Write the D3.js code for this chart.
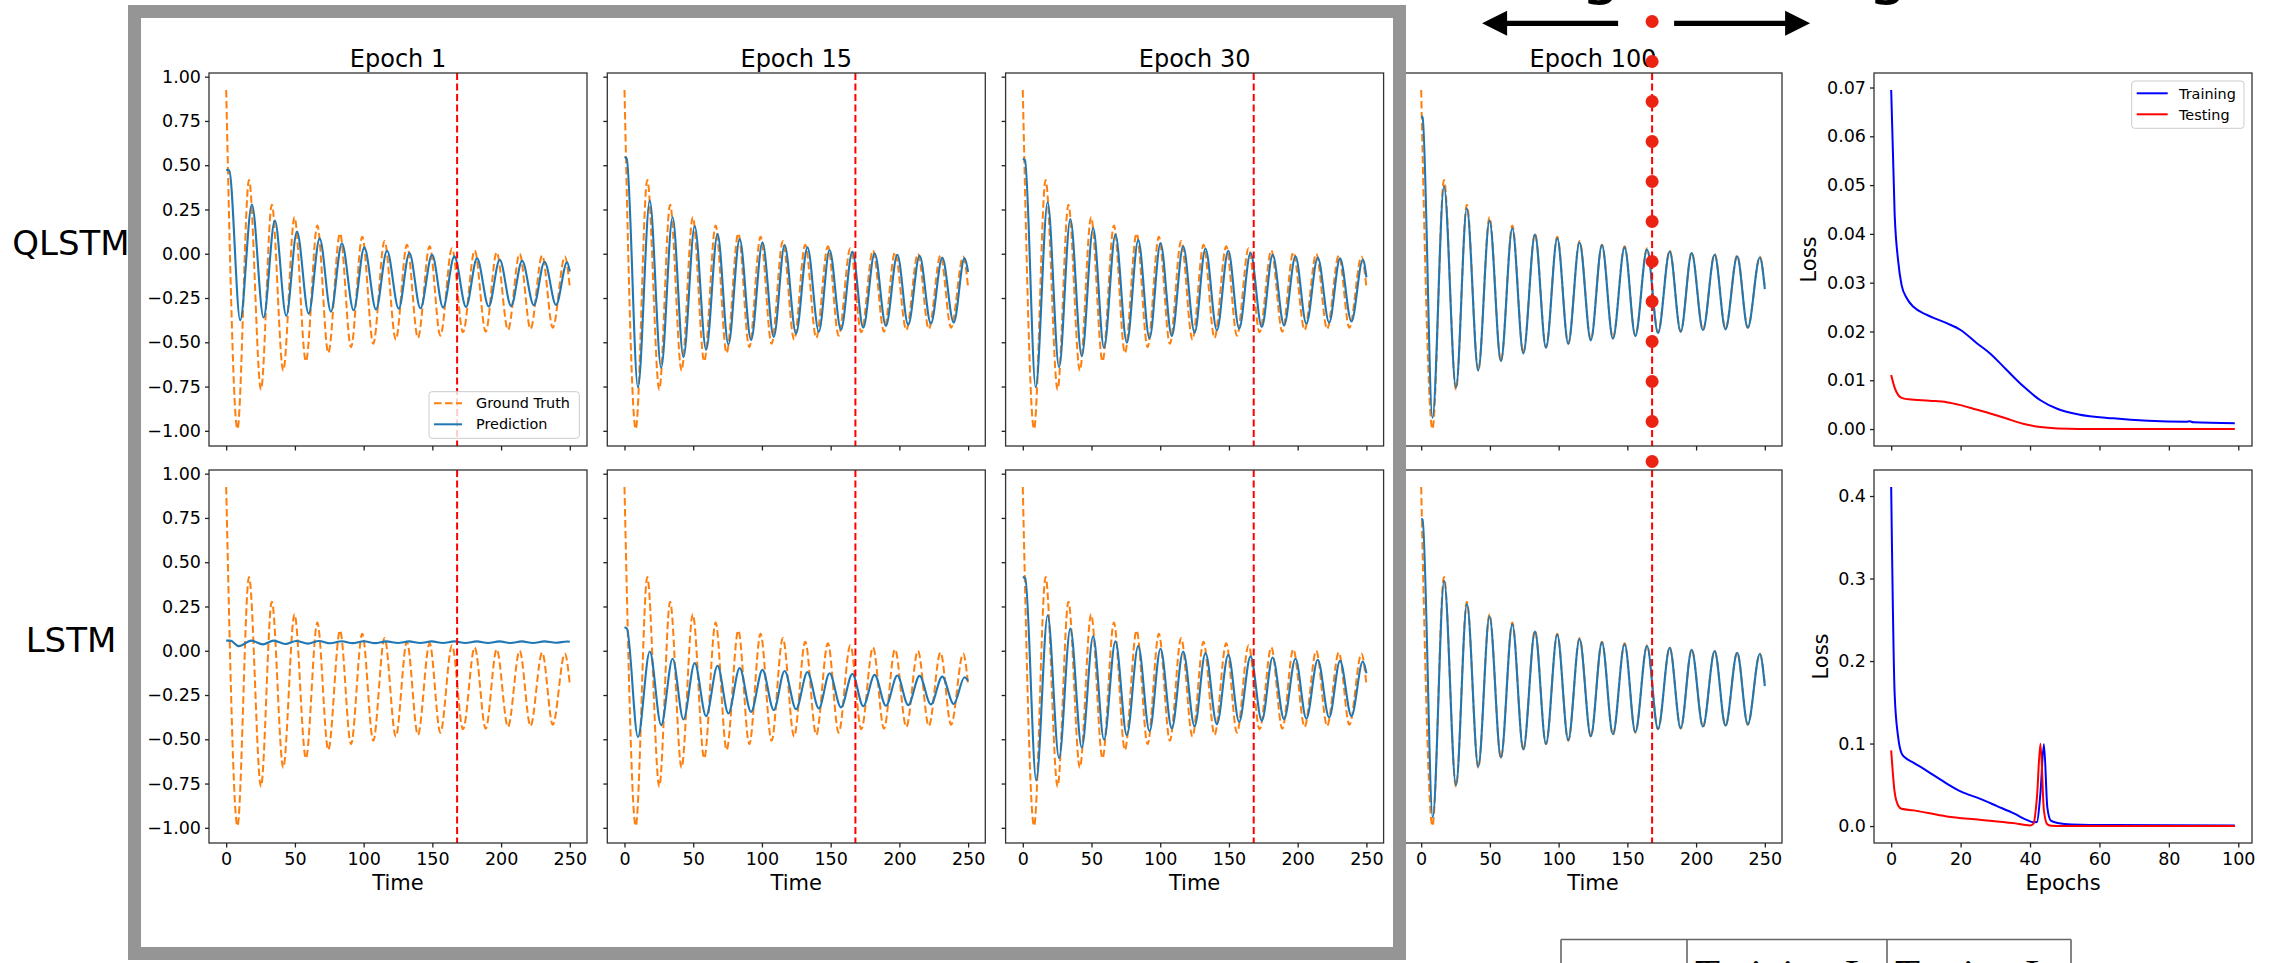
<!DOCTYPE html>
<html>
<head>
<meta charset="utf-8">
<script src="https://cdn.jsdelivr.net/npm/d3@7"></script>
<style>
  html, body { margin: 0; padding: 0; background: #fff; overflow: hidden; }
  svg { display: block; font-family: "DejaVu Sans", sans-serif; }
</style>
</head>
<body>
<svg id="fig" width="2274" height="963"></svg>
<script>
// ---------- tick values and labels ----------
const timeTicks = [0, 50, 100, 150, 200, 250];
const valueTicks = [-1, -0.75, -0.5, -0.25, 0, 0.25, 0.5, 0.75, 1];
const epochTicks = [0, 20, 40, 60, 80, 100];
const qlstmLossTicks = [0, 0.01, 0.02, 0.03, 0.04, 0.05, 0.06, 0.07];
const lstmLossTicks = [0, 0.1, 0.2, 0.3, 0.4];
const epochTitles = ["Epoch 1", "Epoch 15", "Epoch 30", "Epoch 100"];
const modelNames = ["QLSTM", "LSTM"];
const tableHeaders = ["Training Loss", "Testing Loss"];
const splitTime = 168;     // train / test boundary
const timeSpan = [0, 250];
const epochSpan = [0, 99];

// ---------- damped oscillation: turning points [time, value] ----------
const groundTruth = [[0,0.925],[8.2,-0.99],[16.6,0.417],[25.3,-0.767],[33.2,0.277],[41.5,-0.66],[49.7,0.206],[58,-0.608],[66.3,0.159],[74.3,-0.56],[82.8,0.115],[90.8,-0.528],[99,0.096],[107,-0.508],[115.2,0.072],[123.4,-0.485],[131.5,0.051],[139.5,-0.475],[148,0.042],[155.8,-0.463],[164.3,0.031],[172.3,-0.444],[180.8,0.019],[188.8,-0.44],[196.8,0.008],[205,-0.43],[213.5,0],[221.4,-0.425],[229.9,-0.01],[237.6,-0.418],[246.4,-0.016],[250,-0.19]];

// ---------- QLSTM predictions ----------
const qlstmEpoch1 = [[0,0.474],[2.2,0.47],[10.2,-0.376],[18.7,0.278],[27.2,-0.36],[35.4,0.187],[43.7,-0.351],[51.5,0.125],[60,-0.338],[68,0.087],[76.2,-0.327],[84.2,0.059],[92.7,-0.319],[100.5,0.036],[109,-0.315],[117,0.017],[125.5,-0.31],[133.3,0.004],[141.3,-0.308],[149.8,-0.006],[157.8,-0.304],[166,-0.015],[174.5,-0.3],[182.5,-0.026],[191,-0.298],[199,-0.034],[207.3,-0.295],[215.3,-0.04],[223.8,-0.291],[231.6,-0.045],[240,-0.289],[248,-0.049],[250,-0.1]];
const qlstmEpoch15 = [[0,0.546],[1.6,0.537],[9.8,-0.754],[18.4,0.3],[26.7,-0.644],[35,0.206],[42.9,-0.584],[51.1,0.155],[59.4,-0.542],[67.7,0.111],[75.6,-0.512],[83.8,0.083],[92.1,-0.487],[100.4,0.064],[108.6,-0.47],[116.5,0.049],[124.8,-0.451],[133.1,0.036],[141.4,-0.44],[149.2,0.021],[157.5,-0.429],[165.8,0.011],[173.7,-0.417],[182,0.002],[190.2,-0.408],[198.5,-0.006],[206.4,-0.402],[214.7,-0.011],[222.9,-0.395],[231.2,-0.021],[239.5,-0.389],[247.4,-0.025],[250,-0.102]];
const qlstmEpoch30 = [[0,0.536],[1.6,0.528],[9.4,-0.754],[18.1,0.291],[26.4,-0.64],[34.6,0.196],[42.9,-0.578],[51.2,0.145],[59.1,-0.531],[67.4,0.108],[75.7,-0.502],[84,0.077],[92.2,-0.478],[100.2,0.06],[108.4,-0.465],[116.7,0.042],[125,-0.446],[132.9,0.03],[141.2,-0.432],[149.5,0.017],[157.4,-0.423],[165.7,0.004],[173.9,-0.414],[181.8,-0.006],[190.1,-0.404],[198.4,-0.015],[206.3,-0.395],[214.6,-0.021],[222.9,-0.389],[230.8,-0.026],[239.1,-0.383],[247.4,-0.034],[250,-0.134]];
const qlstmEpoch100 = [[0,0.776],[1,0.77],[8.2,-0.927],[16.6,0.381],[25.3,-0.757],[33.2,0.257],[41.5,-0.659],[49.7,0.187],[58,-0.606],[66.3,0.144],[74.3,-0.563],[82.8,0.108],[90.8,-0.531],[99,0.087],[107,-0.508],[115.2,0.064],[123.4,-0.489],[131.5,0.049],[139.5,-0.48],[148,0.036],[155.8,-0.465],[164.3,0.023],[172.3,-0.449],[180.8,0.013],[188.8,-0.44],[196.8,0.004],[205,-0.432],[213.5,-0.006],[221.4,-0.427],[229.9,-0.015],[237.6,-0.418],[246.4,-0.021],[250,-0.2]];

// ---------- LSTM predictions ----------
const lstmEpoch1 = [[0,0.057],[3,0.057],[9.2,0.026],[18.2,0.057],[26.7,0.036],[34.5,0.057],[43,0.038],[51,0.055],[59.5,0.04],[67.5,0.055],[75.7,0.042],[84,0.054],[92,0.043],[100,0.054],[108.5,0.043],[116.5,0.053],[125,0.044],[133,0.053],[141.3,0.044],[149.5,0.053],[157.7,0.044],[166,0.053],[174,0.044],[182.3,0.053],[190.5,0.044],[198.8,0.053],[207,0.044],[215,0.053],[223.3,0.044],[231.5,0.053],[239.8,0.045],[248,0.052],[250,0.051]];
const lstmEpoch15 = [[0,0.133],[1.8,0.125],[9.8,-0.487],[18.4,-0.004],[26.7,-0.42],[35,-0.045],[42.9,-0.388],[51.1,-0.07],[59.4,-0.369],[67.7,-0.085],[75.6,-0.354],[83.8,-0.098],[92.1,-0.345],[100.4,-0.108],[108.6,-0.335],[116.5,-0.114],[124.8,-0.33],[133.1,-0.121],[141.4,-0.326],[149.2,-0.127],[157.5,-0.32],[165.8,-0.131],[173.7,-0.313],[182,-0.136],[190.2,-0.311],[198.5,-0.14],[206.4,-0.307],[214.7,-0.142],[222.9,-0.303],[231.2,-0.146],[239.5,-0.301],[247.4,-0.15],[250,-0.17]];
const lstmEpoch30 = [[0,0.417],[1.8,0.41],[9.8,-0.733],[18.1,0.2],[26.4,-0.606],[34.6,0.125],[42.9,-0.547],[51.2,0.081],[59.1,-0.502],[67.4,0.053],[75.7,-0.477],[84,0.028],[92.2,-0.455],[100.2,0.011],[108.4,-0.439],[116.7,-0.004],[125,-0.426],[132.9,-0.013],[141.2,-0.415],[149.5,-0.023],[157.4,-0.402],[165.7,-0.032],[173.9,-0.396],[181.8,-0.038],[190.1,-0.386],[198.4,-0.045],[206.3,-0.383],[214.6,-0.051],[222.9,-0.377],[230.8,-0.057],[239.1,-0.369],[247.4,-0.061],[250,-0.127]];
const lstmEpoch100 = [[0,0.745],[1,0.74],[8.4,-0.94],[16.7,0.395],[25.3,-0.76],[33.3,0.265],[41.5,-0.655],[49.7,0.195],[58,-0.603],[66.3,0.15],[74.3,-0.558],[82.8,0.108],[90.8,-0.526],[99,0.09],[107,-0.505],[115.2,0.066],[123.4,-0.483],[131.5,0.047],[139.5,-0.472],[148,0.038],[155.8,-0.46],[164.3,0.027],[172.3,-0.443],[180.8,0.016],[188.8,-0.437],[196.8,0.006],[205,-0.428],[213.5,-0.002],[221.4,-0.423],[229.9,-0.012],[237.6,-0.416],[246.4,-0.018],[250,-0.2]];

// ---------- loss per epoch [epoch, loss] ----------
const qlstmTrainLoss = [[0,0.0695],[1,0.044],[2,0.0345],[3,0.0295],[4.5,0.0268],[6.5,0.025],[10,0.0235],[16,0.0217],[20,0.0203],[24.5,0.0177],[28.5,0.0155],[33,0.0123],[38,0.0088],[43,0.0059],[48,0.0041],[54,0.003],[64,0.0022],[74,0.0017],[85,0.0015],[86,0.0016],[87,0.0014],[99,0.0012]];
const qlstmTestLoss = [[0,0.0111],[1,0.0085],[2,0.007],[3,0.0064],[5,0.0061],[11,0.0058],[16,0.0055],[20,0.0049],[24.5,0.004],[28.5,0.0032],[33,0.0022],[38,0.0011],[43,0.0004],[48,0.0001],[54,0],[99,0]];
const lstmTrainLoss = [[0,0.411],[1,0.16],[2,0.108],[3,0.088],[4,0.083],[6.5,0.0765],[9.5,0.069],[13,0.0595],[16,0.0515],[20,0.042],[25.5,0.0332],[30.5,0.0242],[35.5,0.015],[39,0.0075],[41,0.0045],[42,0.005],[43,0.04],[44,0.099],[45,0.022],[46,0.0065],[48,0.0038],[52,0.002],[64,0.0012],[99,0.0008]];
const lstmTestLoss = [[0,0.0917],[1,0.041],[2,0.025],[3,0.021],[6.5,0.019],[16,0.0117],[25.5,0.0077],[35,0.0036],[40,0.0008],[41,0.003],[42,0.035],[43,0.0998],[44,0.019],[45,0.002],[46,0.0005],[50,0.0002],[99,0.0001]];

// ---------- layout ----------
const W = 378, H = 373;
const colLeft = [209, 607.3, 1005.6, 1404];
const rowTop = [73, 470];
const lossLeft = 1874;
const C = { truth: "#ff7f0e", pred: "#1f77b4", split: "#ff0000", train: "#0000ff", test: "#ff0000", ink: "#222" };

const svg = d3.select("#fig");

// 5% padding like the plotting default
const padded = ([a, b]) => { const p = (b - a) * 0.05; return [a - p, b + p]; };

const tScale = d3.scaleLinear().domain(padded(timeSpan)).range([0, W]);
const vScale = d3.scaleLinear().domain(padded(d3.extent(groundTruth, d => d[1]))).range([H, 0]);
const eScale = d3.scaleLinear().domain(padded(epochSpan)).range([0, W]);
const qLossScale = d3.scaleLinear().domain(padded([0, d3.max(qlstmTrainLoss, d => d[1])])).range([H, 0]);
const lLossScale = d3.scaleLinear().domain(padded([0, d3.max(lstmTrainLoss, d => d[1])])).range([H, 0]);

const predictions = [
  [qlstmEpoch1, qlstmEpoch15, qlstmEpoch30, qlstmEpoch100],
  [lstmEpoch1, lstmEpoch15, lstmEpoch30, lstmEpoch100]
];

function styleAxis(g, fontSize) {
  g.select(".domain").remove();
  g.selectAll(".tick line").attr("stroke", C.ink).attr("stroke-width", 1.3);
  g.selectAll(".tick text").attr("fill", "#000").style("font-size", fontSize + "px")
    .style("font-family", "DejaVu Sans, sans-serif");
}

function frame(g) {
  g.append("rect").attr("width", W).attr("height", H)
    .attr("fill", "none").attr("stroke", "#333").attr("stroke-width", 1.3);
}

function xAxis(g, scale, ticks, showLabels) {
  const ax = d3.axisBottom(scale).tickValues(ticks).tickSize(4.5).tickPadding(5.4)
    .tickFormat(showLabels ? d3.format("d") : () => "");
  g.append("g").attr("transform", `translate(0,${H})`).call(ax).call(s => styleAxis(s, 17.5));
}

function yAxis(g, scale, ticks, fmt, showLabels) {
  const ax = d3.axisLeft(scale).tickValues(ticks).tickSize(4).tickPadding(4)
    .tickFormat(showLabels ? d3.format(fmt) : () => "");
  g.append("g").call(ax).call(s => styleAxis(s, 17.5));
}

const curve = (xs, ys) => d3.line().x(d => xs(d[0])).y(d => ys(d[1])).curve(d3.curveMonotoneX);

// ---------- time-series panels ----------
rowTop.forEach((top, r) => {
  colLeft.forEach((left, c) => {
    const g = svg.append("g").attr("transform", `translate(${left},${top})`);
    const path = curve(tScale, vScale);

    g.append("path").datum(groundTruth).attr("d", path)
      .attr("fill", "none").attr("stroke", C.truth).attr("stroke-width", 2)
      .attr("stroke-dasharray", "7.5,3.5");
    g.append("path").datum(predictions[r][c]).attr("d", path)
      .attr("fill", "none").attr("stroke", C.pred).attr("stroke-width", 2.1);

    g.append("line")
      .attr("x1", tScale(splitTime)).attr("x2", tScale(splitTime))
      .attr("y1", 0).attr("y2", H)
      .attr("stroke", C.split).attr("stroke-width", 2).attr("stroke-dasharray", "7,3.5");

    frame(g);
    xAxis(g, tScale, timeTicks, r === 1);
    yAxis(g, vScale, valueTicks, ".2f", c === 0);

    if (r === 0) {
      g.append("text").attr("x", W / 2).attr("y", -6).attr("text-anchor", "middle")
        .style("font-size", "24px").text(epochTitles[c]);
    } else {
      g.append("text").attr("x", W / 2).attr("y", H + 47).attr("text-anchor", "middle")
        .style("font-size", "21px").text("Time");
    }

    if (r === 0 && c === 0) {
      const lg = g.append("g").attr("transform", "translate(220,318.7)");
      lg.append("rect").attr("width", 150.3).attr("height", 46.6).attr("rx", 3)
        .attr("fill", "#fff").attr("fill-opacity", 0.8).attr("stroke", "#ccc").attr("stroke-width", 1);
      const items = [["Ground Truth", C.truth, "7.5,3.5"], ["Prediction", C.pred, null]];
      items.forEach(([label, col, dash], i) => {
        const y = 11.6 + i * 21;
        lg.append("line").attr("x1", 5).attr("x2", 33).attr("y1", y).attr("y2", y)
          .attr("stroke", col).attr("stroke-width", 2).attr("stroke-dasharray", dash);
        lg.append("text").attr("x", 47).attr("y", y + 5.2).style("font-size", "14.4px").text(label);
      });
    }
  });
});

// ---------- loss panels ----------
const lossPanels = [
  { top: rowTop[0], y: qLossScale, ticks: qlstmLossTicks, fmt: ".2f", train: qlstmTrainLoss, test: qlstmTestLoss, labelX: -58, xLabels: false },
  { top: rowTop[1], y: lLossScale, ticks: lstmLossTicks, fmt: ".1f", train: lstmTrainLoss, test: lstmTestLoss, labelX: -46.3, xLabels: true }
];

lossPanels.forEach((p, i) => {
  const g = svg.append("g").attr("transform", `translate(${lossLeft},${p.top})`);
  const path = curve(eScale, p.y);
  g.append("path").datum(p.train).attr("d", path)
    .attr("fill", "none").attr("stroke", C.train).attr("stroke-width", 2);
  g.append("path").datum(p.test).attr("d", path)
    .attr("fill", "none").attr("stroke", C.test).attr("stroke-width", 2);
  frame(g);
  xAxis(g, eScale, epochTicks, p.xLabels);
  yAxis(g, p.y, p.ticks, p.fmt, true);

  g.append("text").attr("transform", `translate(${p.labelX},${H / 2}) rotate(-90)`)
    .attr("text-anchor", "middle").style("font-size", "21px").text("Loss");

  if (p.xLabels) {
    g.append("text").attr("x", W / 2).attr("y", H + 47).attr("text-anchor", "middle")
      .style("font-size", "21px").text("Epochs");
  }

  if (i === 0) {
    const lg = g.append("g").attr("transform", "translate(257.7,8)");
    lg.append("rect").attr("width", 112.3).attr("height", 47.3).attr("rx", 3)
      .attr("fill", "#fff").attr("fill-opacity", 0.8).attr("stroke", "#ccc").attr("stroke-width", 1);
    [["Training", C.train], ["Testing", C.test]].forEach(([label, col], k) => {
      const y = 12.3 + k * 21;
      lg.append("line").attr("x1", 5).attr("x2", 36).attr("y1", y).attr("y2", y)
        .attr("stroke", col).attr("stroke-width", 2);
      lg.append("text").attr("x", 47.3).attr("y", y + 5.2).style("font-size", "14.4px").text(label);
    });
  }
});

// ---------- row labels ----------
modelNames.forEach((name, r) => {
  svg.append("text").attr("x", 71).attr("y", rowTop[r] + H / 2 - 4.5)
    .attr("text-anchor", "middle").style("font-size", "34px").text(name);
});

// ---------- grey frame around the training-phase panels ----------
svg.append("rect").attr("x", 134.5).attr("y", 11.5).attr("width", 1265).attr("height", 942)
  .attr("fill", "none").attr("stroke", "#959595").attr("stroke-width", 13);

// ---------- separator dots and direction arrows ----------
const sepX = colLeft[3] + tScale(splitTime);
const dotY = d3.range(12).map(i => 21.5 + 40 * i);
svg.append("g").selectAll("circle").data(dotY).join("circle")
  .attr("cx", sepX).attr("cy", d => d).attr("r", 6.5).attr("fill", "#ec2212");

const arrowY = 23.3;
function arrow(from, to) {
  const dir = Math.sign(to - from);
  const base = to - dir * 25;
  const p = d3.path();
  p.moveTo(from, arrowY - 2.6); p.lineTo(base, arrowY - 2.6); p.lineTo(base, arrowY - 12.5);
  p.lineTo(to, arrowY); p.lineTo(base, arrowY + 12.5); p.lineTo(base, arrowY + 2.6);
  p.lineTo(from, arrowY + 2.6); p.closePath();
  svg.append("path").attr("d", p.toString()).attr("fill", "#000");
}
arrow(sepX - 34, sepX - 170);
arrow(sepX + 22, sepX + 158);

// phase headings above the arrows (only their descenders reach the canvas)
svg.append("text").attr("x", sepX - 31).attr("y", -8.3).attr("text-anchor", "end")
  .style("font-size", "64px").text("Training");
svg.append("text").attr("x", sepX + 256).attr("y", -8.3).attr("text-anchor", "end")
  .style("font-size", "64px").text("Testing");

// ---------- results table header (cells clip their text) ----------
const tableCols = [1561, 1687, 1887, 2071];
const defs = svg.append("defs");
tableHeaders.forEach((t, k) => {
  const x0 = tableCols[k + 1], x1 = tableCols[k + 2];
  defs.append("clipPath").attr("id", "cell" + k)
    .append("rect").attr("x", x0 + 1).attr("y", 940).attr("width", x1 - x0 - 2).attr("height", 30);
  svg.append("text").attr("x", x0 + 8).attr("y", 987).attr("clip-path", `url(#cell${k})`)
    .style("font-family", "Liberation Serif, serif").style("font-size", "41px").text(t);
});
const tg = svg.append("g").attr("stroke", "#666").attr("stroke-width", 1.6);
tg.append("line").attr("x1", tableCols[0]).attr("x2", tableCols[3]).attr("y1", 939.5).attr("y2", 939.5);
tableCols.forEach(x => tg.append("line").attr("x1", x).attr("x2", x).attr("y1", 939.5).attr("y2", 963));
</script>
</body>
</html>
